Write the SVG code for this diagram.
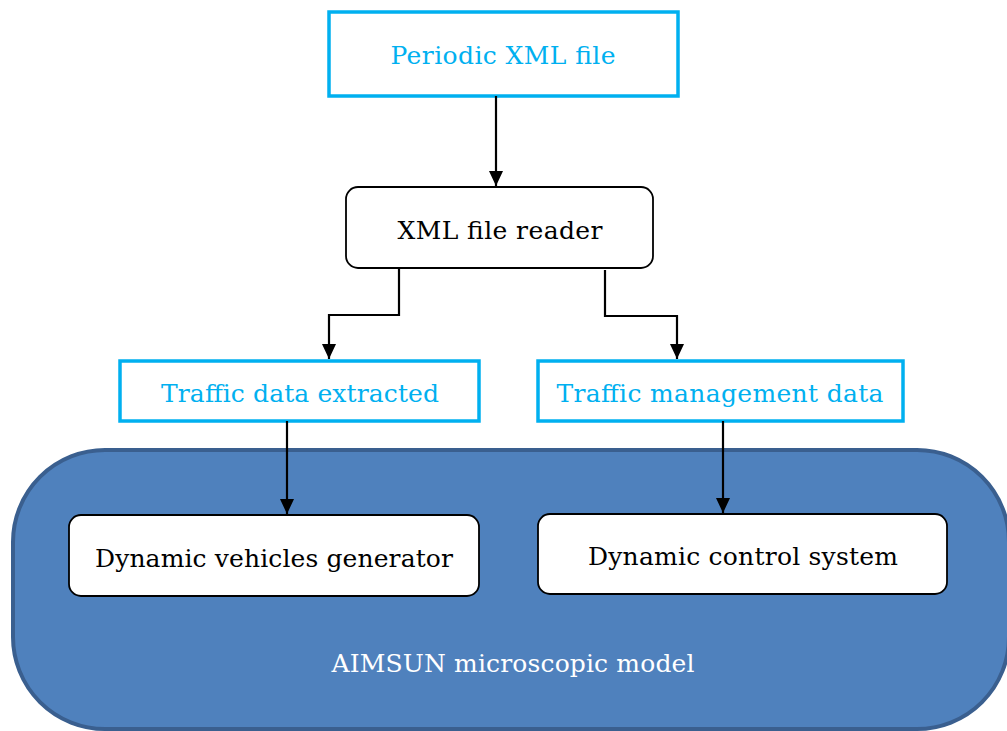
<svg xmlns="http://www.w3.org/2000/svg" width="1007" height="731" viewBox="0 0 1007 731">
<style>
.t{font-family:"DejaVu Serif","Liberation Serif",serif;font-size:25px;text-anchor:middle}
.cy{fill:#00B0F0}
.bk{fill:#000}
.wh{fill:#fff}
.cbox{fill:#fff;stroke:#00B0F0;stroke-width:3.5}
.rbox{fill:#fff;stroke:#000;stroke-width:1.8}
.conn{fill:none;stroke:#000;stroke-width:2.2}
</style>
<defs>
<marker id="ah" markerWidth="14" markerHeight="16" refX="15" refY="7" orient="auto" markerUnits="userSpaceOnUse">
<path d="M0,0 L15,7 L0,14 Z" fill="#000"/>
</marker>
</defs>
<rect width="1007" height="731" fill="#fff"/>
<g id="aimsun">
<rect x="13" y="450" width="996" height="279" rx="92" ry="92" fill="#4F81BD" stroke="#3A5F8F" stroke-width="4"/>
<text class="t wh" x="513" y="672" textLength="363">AIMSUN microscopic model</text>
</g>
<g id="periodic">
<rect class="cbox" x="329" y="12" width="349" height="84"/>
<text class="t cy" x="503" y="64" textLength="225">Periodic XML file</text>
</g>
<g id="reader">
<rect class="rbox" x="346" y="187" width="307" height="81" rx="12"/>
<text class="t bk" x="500" y="239" textLength="205">XML file reader</text>
</g>
<g id="extracted">
<rect class="cbox" x="120" y="361" width="359" height="60"/>
<text class="t cy" x="300" y="402" textLength="278">Traffic data extracted</text>
</g>
<g id="management">
<rect class="cbox" x="538" y="361" width="365" height="60"/>
<text class="t cy" x="720" y="402" textLength="327">Traffic management data</text>
</g>
<g id="generator">
<rect class="rbox" x="69" y="515" width="410" height="81" rx="12"/>
<text class="t bk" x="274" y="567" textLength="358">Dynamic vehicles generator</text>
</g>
<g id="control">
<rect class="rbox" x="538" y="514" width="409" height="80" rx="12"/>
<text class="t bk" x="743" y="565" textLength="310">Dynamic control system</text>
</g>
<g id="connectors">
<path class="conn" d="M496,96 V186" marker-end="url(#ah)"/>
<path class="conn" d="M399,268 V315 H329 V359" marker-end="url(#ah)"/>
<path class="conn" d="M605,270 V316 H677 V359" marker-end="url(#ah)"/>
<path class="conn" d="M287,421 V514" marker-end="url(#ah)"/>
<path class="conn" d="M723,421 V513" marker-end="url(#ah)"/>
</g>
</svg>
